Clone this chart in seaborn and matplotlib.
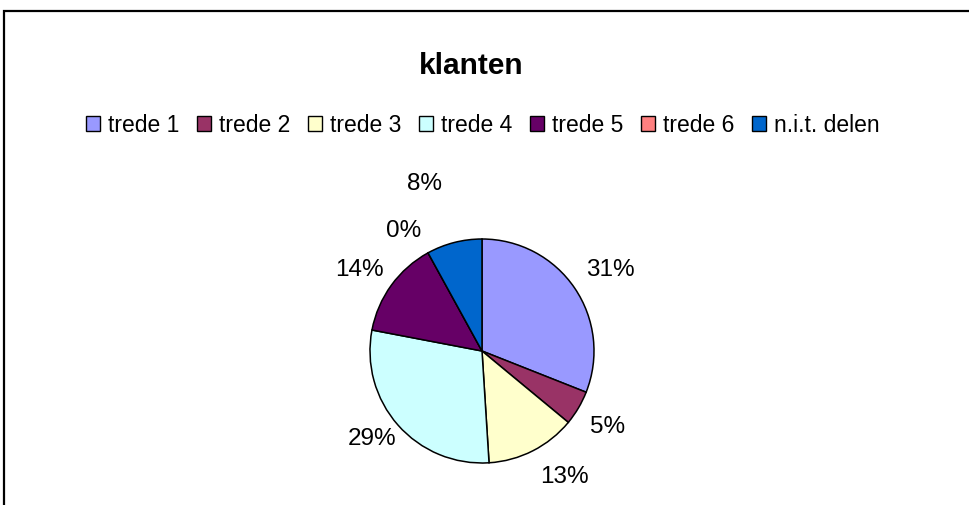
import numpy as np
import matplotlib
matplotlib.use("Agg")
import matplotlib.pyplot as plt
from matplotlib.patches import Rectangle
import seaborn as sns

categories = ["trede 1", "trede 2", "trede 3", "trede 4", "trede 5", "trede 6", "n.i.t. delen"]
shares = [31, 5, 13, 29, 14, 0, 8]
colors = ["#9999FF", "#993366", "#FFFFCC", "#CCFFFF", "#660066", "#FF8080", "#0066CC"]
title = "klanten"

sns.set_theme(style="white")
plt.rcParams["font.family"] = ["Liberation Sans", "DejaVu Sans"]
plt.rcParams["text.color"] = "black"

W, H = 970, 506
fig = plt.figure(figsize=(W / 100, H / 100), dpi=100)
fig.patch.set_facecolor("white")

# outer chart frame (right and bottom edges fall outside the picture)
fig.patches.append(Rectangle((4 / W, -0.2), 1.2, 1 - 12 / H + 0.2,
                             transform=fig.transFigure, fill=False,
                             edgecolor="black", linewidth=1.6))

# pie area: centre (482, 352) px, radius 112 px
cx, cy, r = 482, 352, 112
ax = fig.add_axes([(cx - r) / W, (H - cy - r) / H, 2 * r / W, 2 * r / H])
wedges, _ = ax.pie(shares, colors=sns.color_palette(colors), startangle=90,
                   counterclock=False, radius=1,
                   wedgeprops=dict(edgecolor="black", linewidth=1.1))
ax.set_xlim(-1, 1)
ax.set_ylim(-1, 1)
ax.set_aspect("equal")
ax.axis("off")

# percentage labels, anchored by the corner nearest the pie
label_dist = [1.12, 1.12, 1.14, 1.02, 1.08, 1.12, 1.45]
for w, val, d in zip(wedges, shares, label_dist):
    ang = np.deg2rad((w.theta1 + w.theta2) / 2)
    x, y = d * np.cos(ang), d * np.sin(ang)
    ha = "left" if x > 0 else "right"
    va = "bottom" if y > 0 else "top"
    ax.text(x, y, f"{val:.0f}%", ha=ha, va=va, fontsize=17.5, color="black")

fig.text(471 / W, 1 - 74 / H, title, ha="center", va="baseline",
         fontsize=21.5, fontweight="bold", color="black")

leg = fig.legend(wedges, categories, loc="center", ncol=7,
                 bbox_to_anchor=(483 / W, 1 - 126 / H), frameon=False,
                 fontsize=16.5, handlelength=0.62, handleheight=0.66,
                 handletextpad=0.36, columnspacing=0.75, borderpad=0)
for h in leg.legend_handles:
    h.set_edgecolor("black")
    h.set_linewidth(1.0)
for t in leg.get_texts():
    t.set_color("black")

fig.savefig("out.png", dpi=100)
